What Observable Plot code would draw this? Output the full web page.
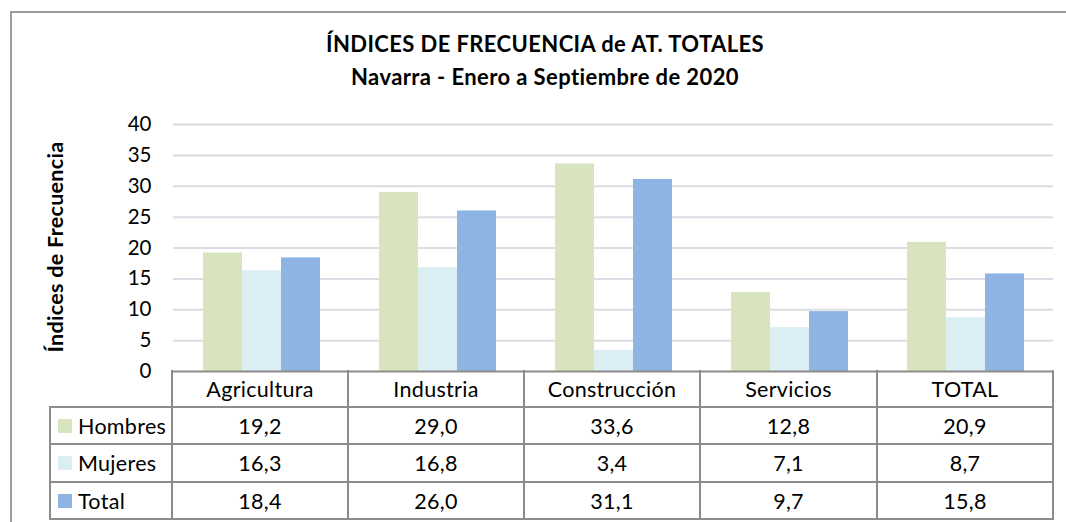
<!DOCTYPE html>
<html>
<head>
<meta charset="utf-8">
<script src="https://cdn.jsdelivr.net/npm/d3@7"></script>
<script src="https://cdn.jsdelivr.net/npm/@observablehq/plot@0.6"></script>
<style>
  body { margin: 0; background: #fff; }
  #wrap { position: relative; width: 1066px; height: 522px; overflow: hidden; background: #fff; font-family: Lato, "Open Sans", sans-serif; color: #000; }
  #chart { position: absolute; left: 0; top: 0; }
  .abs { position: absolute; }
  .line { position: absolute; background: #8c8c8c; }
  .cell { position: absolute; display: flex; align-items: center; justify-content: center; font-size: 21.5px; letter-spacing: 0.3px; white-space: nowrap; }
  .lab { position: absolute; display: flex; align-items: center; font-size: 21.5px; letter-spacing: 0.3px; white-space: nowrap; }
  .sw { width: 14px; height: 14px; margin-left: 8px; margin-right: 6px; flex: none; }
  .ttl { position: absolute; left: 0; width: 1090px; text-align: center; font-weight: bold; font-size: 22px; letter-spacing: 0.4px; line-height: 1.2; }
</style>
</head>
<body>
<div id="wrap">
  <div id="chart"></div>
  <div class="abs" style="left:10px;top:11px;width:1100px;height:600px;border:2px solid #9c9c9c;box-sizing:border-box;"></div>
  <div id="title1" class="ttl" style="top:31px;"></div>
  <div id="title2" class="ttl" style="top:64px;"></div>
  <div id="ylabel" class="abs" style="left:55px;top:247px;transform:translate(-50%,-50%) rotate(-90deg);font-weight:bold;font-size:21.5px;letter-spacing:0.3px;white-space:nowrap;"></div>
  <div id="table"></div>
</div>
<script>
// ---- data ----
const titleLines = ["ÍNDICES DE FRECUENCIA de AT. TOTALES", "Navarra - Enero a Septiembre de 2020"];
const yLabel = "Índices de Frecuencia";
const categories = ["Agricultura", "Industria", "Construcción", "Servicios", "TOTAL"];
const series = ["Hombres", "Mujeres", "Total"];
const hombres = [19.2, 29.0, 33.6, 12.8, 20.9];
const mujeres = [16.3, 16.8, 3.4, 7.1, 8.7];
const total = [18.4, 26.0, 31.1, 9.7, 15.8];
const yTicks = [0, 5, 10, 15, 20, 25, 30, 35, 40];
const colors = ["#d7e4bd", "#dbeef4", "#8eb4e3"];

const valuesBySeries = [hombres, mujeres, total];
const rows = categories.flatMap((c, i) => series.map((s, j) => ({cat: c, serie: s, value: valuesBySeries[j][i]})));

document.getElementById("title1").textContent = titleLines[0];
document.getElementById("title2").textContent = titleLines[1];
document.getElementById("ylabel").textContent = yLabel;

// ---- chart ----
const W = 1066, H = 522;
const mL = 172, mR = 13, mT = 124, mB = 151;
const chart = Plot.plot({
  width: W, height: H,
  marginLeft: mL, marginRight: mR, marginTop: mT, marginBottom: mB,
  style: {fontFamily: "Lato, sans-serif", background: "transparent", color: "#000"},
  fx: {domain: categories, padding: 0, axis: null},
  x: {domain: series, paddingInner: 0, paddingOuter: 0.75, axis: null},
  y: {domain: [0, 40], axis: null},
  color: {domain: series, range: colors},
  marks: [
    Plot.gridY(yTicks.filter(t => t > 0), {stroke: "#dcdce4", strokeOpacity: 1, strokeWidth: 2}),
    Plot.barY(rows, {fx: "cat", x: "serie", y: "value", fill: "serie"}),
    Plot.ruleY([0], {stroke: "#8c8c8c", strokeWidth: 2}),
    Plot.axisY(yTicks, {anchor: "left", tickSize: 0, tickPadding: 22, label: null, fontSize: 20.5, line: true, stroke: "#8a8a8a", strokeWidth: 2.5})
  ]
});
document.getElementById("chart").appendChild(chart);

// ---- data table below ----
const table = document.getElementById("table");
const colEdges = [172, 348, 524, 700, 877, 1053];
const rowEdges = [371, 407, 444, 482, 519];
const tableLeft = 50;
const lw = 2;
function hline(y, x1, x2) {
  const d = document.createElement("div");
  d.className = "line";
  Object.assign(d.style, {left: (x1 - lw / 2) + "px", top: (y - lw / 2) + "px", width: (x2 - x1 + lw) + "px", height: lw + "px"});
  table.appendChild(d);
}
function vline(x, y1, y2) {
  const d = document.createElement("div");
  d.className = "line";
  Object.assign(d.style, {left: (x - lw / 2) + "px", top: (y1 - lw / 2) + "px", width: lw + "px", height: (y2 - y1 + lw) + "px"});
  table.appendChild(d);
}
for (let r = 1; r < rowEdges.length; r++) hline(rowEdges[r], tableLeft, colEdges[colEdges.length - 1]);
vline(tableLeft, rowEdges[1], rowEdges[rowEdges.length - 1]);
vline(colEdges[0], rowEdges[0], rowEdges[rowEdges.length - 1]);
for (let c = 1; c < colEdges.length; c++) vline(colEdges[c], rowEdges[0], rowEdges[rowEdges.length - 1]);

function cell(text, x1, x2, y1, y2) {
  const d = document.createElement("div");
  d.className = "cell";
  Object.assign(d.style, {left: x1 + "px", top: y1 + "px", width: (x2 - x1) + "px", height: (y2 - y1) + "px"});
  d.textContent = text;
  table.appendChild(d);
}
categories.forEach((c, i) => cell(c, colEdges[i], colEdges[i + 1], rowEdges[0], rowEdges[1]));
const fmt = v => v.toFixed(1).replace(".", ",");
series.forEach((s, j) => {
  const y1 = rowEdges[j + 1], y2 = rowEdges[j + 2];
  const lab = document.createElement("div");
  lab.className = "lab";
  Object.assign(lab.style, {left: tableLeft + "px", top: y1 + "px", width: (colEdges[0] - tableLeft) + "px", height: (y2 - y1) + "px"});
  const sw = document.createElement("div");
  sw.className = "sw";
  sw.style.background = colors[j];
  const t = document.createElement("span");
  t.textContent = s;
  lab.appendChild(sw); lab.appendChild(t);
  table.appendChild(lab);
  valuesBySeries[j].forEach((v, i) => cell(fmt(v), colEdges[i], colEdges[i + 1], y1, y2));
});
</script>
</body>
</html>
